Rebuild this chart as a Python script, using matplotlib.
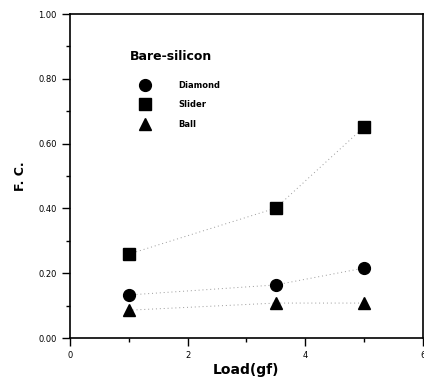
import matplotlib
matplotlib.use("Agg")
from matplotlib import pyplot as plt
from matplotlib.lines import Line2D
from matplotlib.ticker import MultipleLocator, FormatStrFormatter

load = [1.0, 3.5, 5.0]
diamond = [0.133, 0.164, 0.216]
slider = [0.259, 0.401, 0.651]
ball = [0.086, 0.108, 0.108]

series = [
    ("Diamond", diamond, "o"),
    ("Slider", slider, "s"),
    ("Ball", ball, "^"),
]

fig = plt.figure(figsize=(4.24, 3.79), dpi=100)
ax = fig.add_axes([0.165, 0.108, 0.832, 0.855])

for name, values, marker in series:
    ax.plot(load, values, linestyle=(0, (1, 3)), color="#999999", linewidth=0.7, zorder=1)
    ax.plot(load, values, linestyle="none", marker=marker, markersize=8.5,
            color="black", zorder=2)

ax.set_xlim(0, 6)
ax.set_ylim(0, 1.0)
ax.xaxis.set_major_locator(MultipleLocator(2))
ax.xaxis.set_minor_locator(MultipleLocator(1))
ax.yaxis.set_major_locator(MultipleLocator(0.2))
ax.yaxis.set_minor_locator(MultipleLocator(0.1))
ax.yaxis.set_major_formatter(FormatStrFormatter("%.2f"))
ax.tick_params(which="both", direction="out", labelsize=6, width=1.0)
ax.tick_params(which="major", length=6)
ax.tick_params(which="minor", length=3)
for spine in ax.spines.values():
    spine.set_linewidth(1.2)

ax.set_xlabel("Load(gf)", fontsize=10, fontweight="bold", labelpad=2)
ax.set_ylabel("F. C.", fontsize=9, fontweight="bold", labelpad=8)

# legend heading sits apart from the entries
ax.text(0.17, 0.87, "Bare-silicon", transform=ax.transAxes, fontsize=9,
        fontweight="bold", va="center", ha="left")

handles = [Line2D([], [], linestyle="none", marker=m, markersize=8.5, color="black")
           for _, _, m in series]
leg = ax.legend(handles, [s[0] for s in series],
                loc="upper left", bbox_to_anchor=(0.196, 0.794), frameon=False,
                fontsize=6, handlelength=1.5, handletextpad=3.2, labelspacing=1.25,
                borderaxespad=0, borderpad=0)
for t in leg.get_texts():
    t.set_fontweight("bold")

fig.savefig("out.png", dpi=100)
